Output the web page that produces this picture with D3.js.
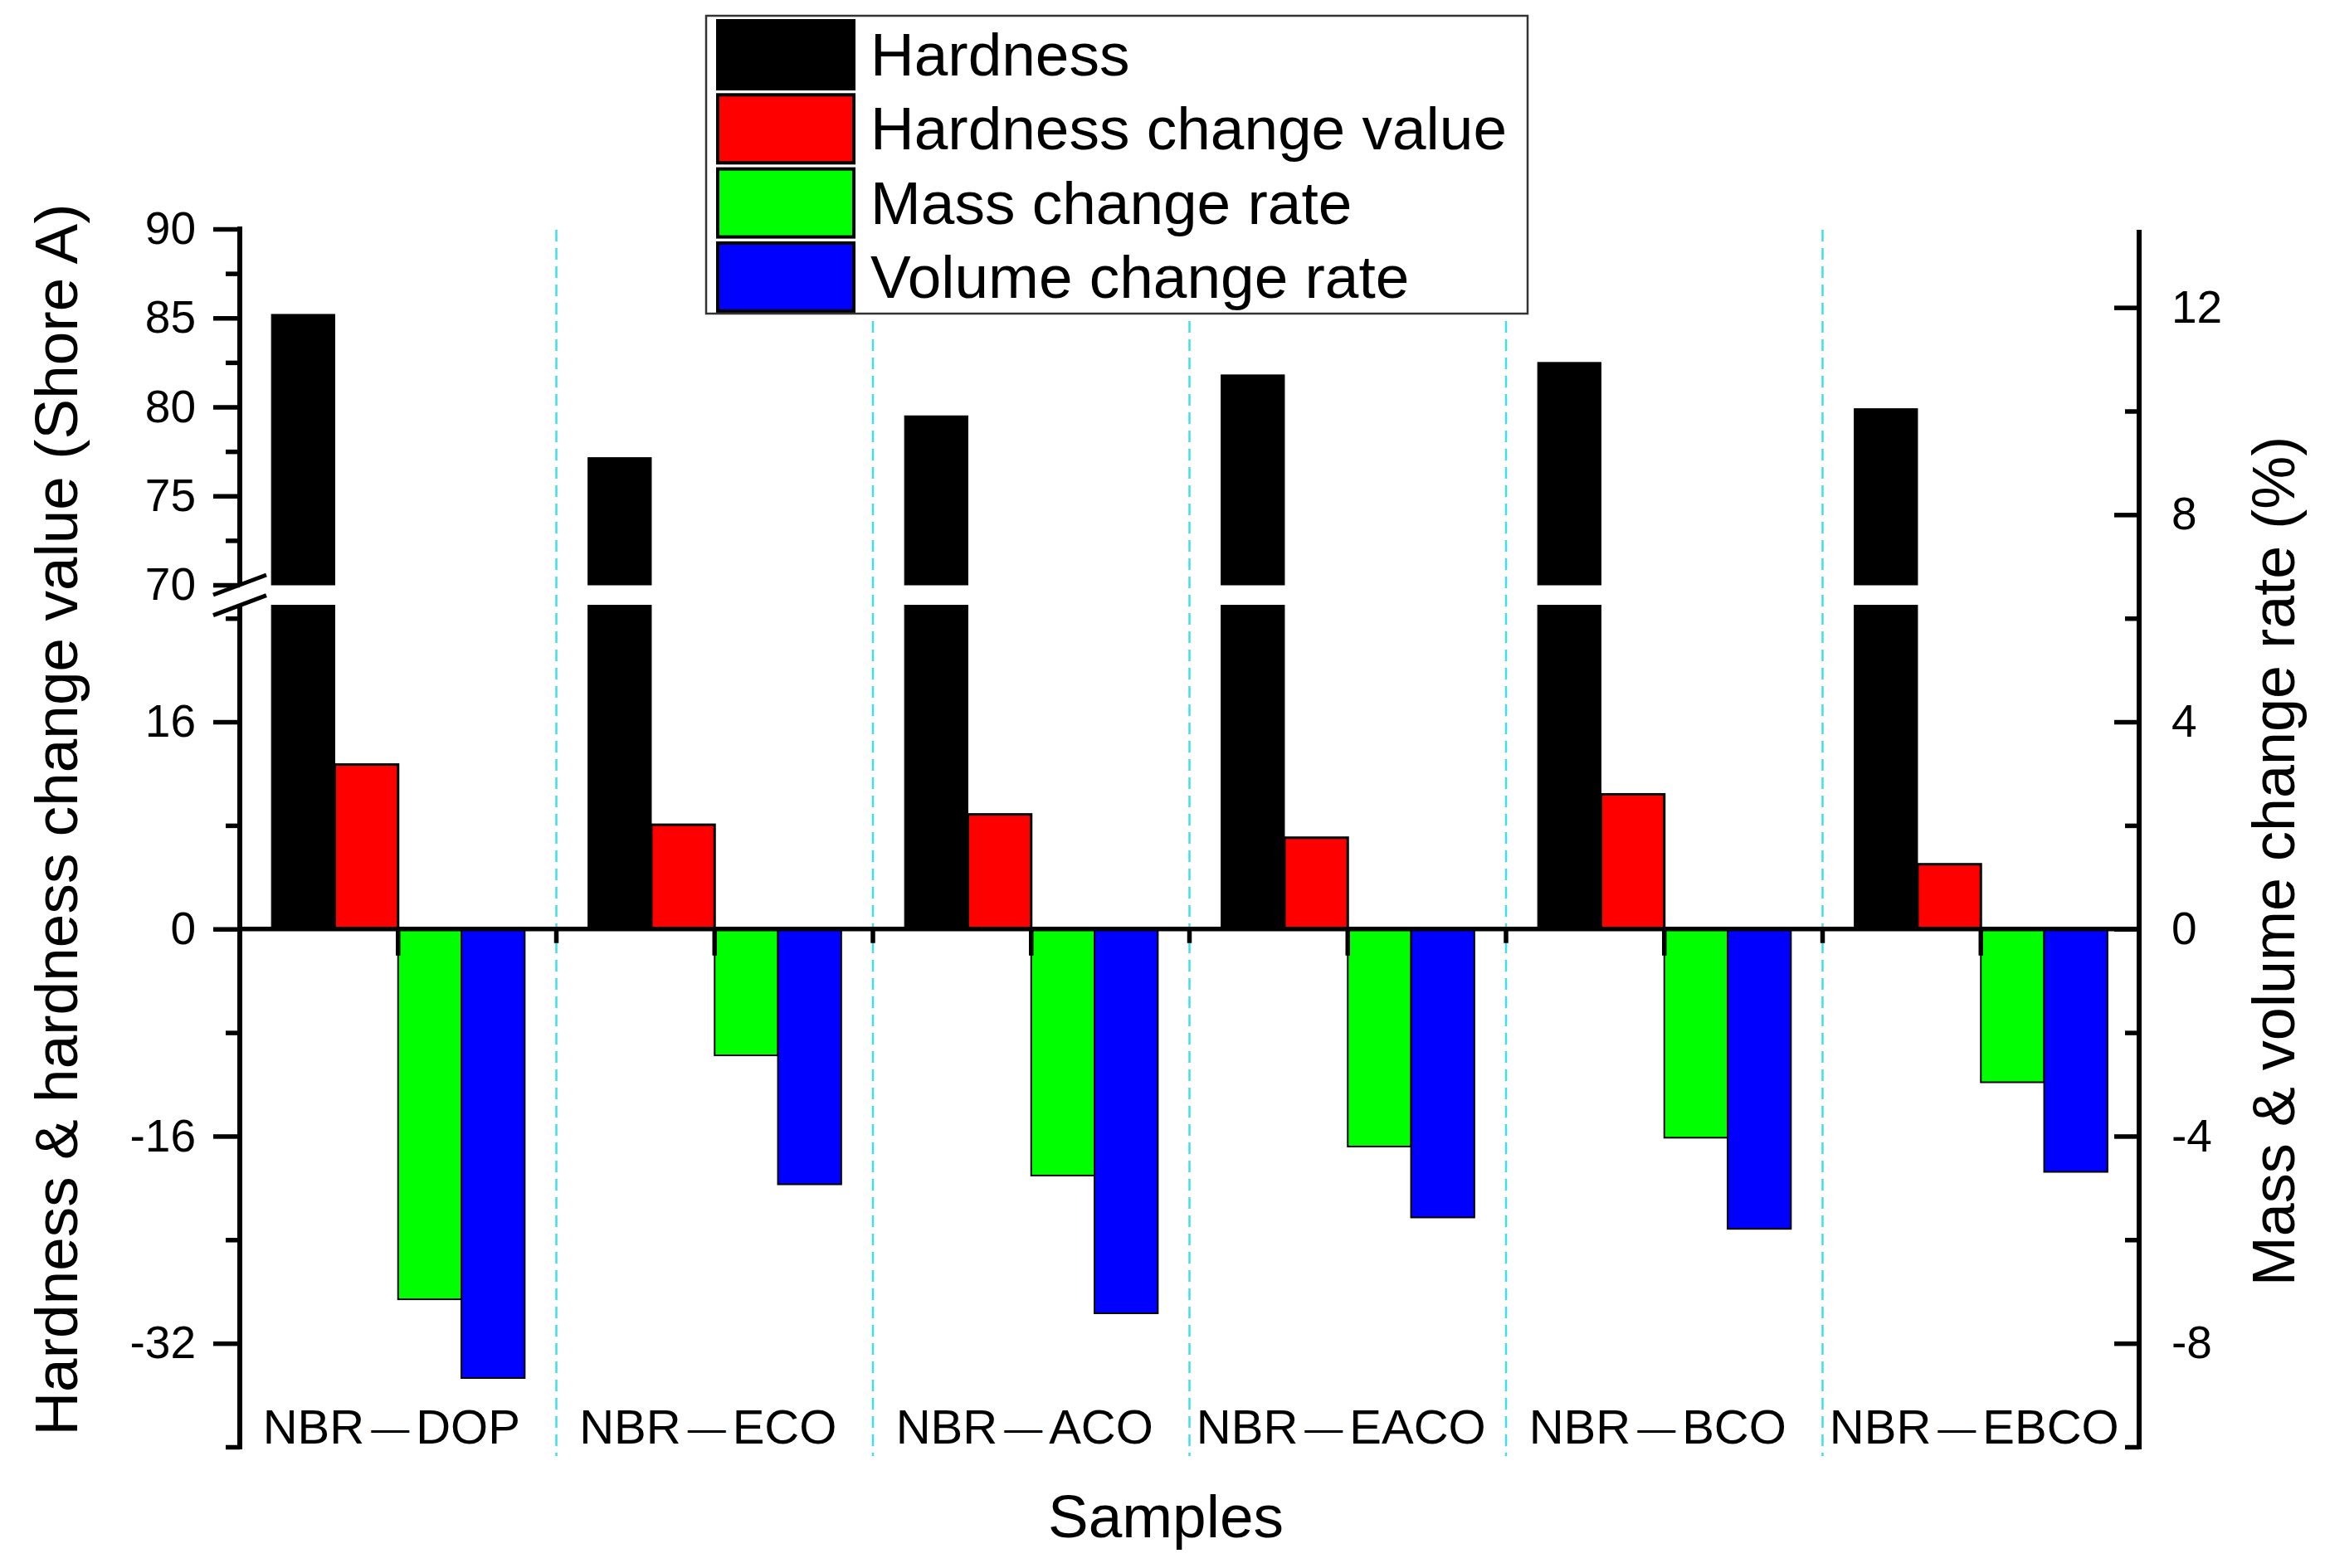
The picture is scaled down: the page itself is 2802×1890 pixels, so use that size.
<!DOCTYPE html>
<html>
<head>
<meta charset="utf-8">
<script src="https://cdn.jsdelivr.net/npm/d3@7/dist/d3.min.js"></script>
<style>
  body { margin: 0; background: #fff; }
  text { font-family: "Liberation Sans", Arial, sans-serif; fill: #000; }
</style>
</head>
<body>
<div class="chart"></div>
<script>
// data
var categories = ["NBR—DOP", "NBR—ECO", "NBR—ACO", "NBR—EACO", "NBR—BCO", "NBR—EBCO"];
var hardness = [85.2, 77.15, 79.5, 81.8, 82.5, 79.9];
var hardnessChange = [12.7, 8.05, 8.85, 7.05, 10.4, 5.0];
var massRate = [-7.15, -2.44, -4.76, -4.2, -4.03, -2.96];
var volumeRate = [-8.67, -4.93, -7.42, -5.57, -5.79, -4.69];

var seriesNames = ["Hardness", "Hardness change value", "Mass change rate", "Volume change rate"];
var seriesColors = ["#000000", "#ff0000", "#00ff00", "#0000ff"];

var upperTicks = [70, 75, 80, 85, 90];
var upperMinor = [72.5, 77.5, 82.5, 87.5];
var lowerTicks = [-32, -16, 0, 16];
var lowerMinor = [-40, -24, -8, 8, 24];
var rightTicks = [-8, -4, 0, 4, 8, 12];
var rightMinor = [-10, -6, -2, 2, 6, 10];

var svgWidth = 2802;
var svgHeight = 1890;

var plotLeft = 289;
var plotRight = 2578;
var plotTop = 277;
var plotBottom = 1744;
var breakTop = 705;   // where the upper (70-90) segment ends

var svg = d3.select(".chart")
  .append("svg")
  .attr("width", svgWidth)
  .attr("height", svgHeight);

svg.append("rect")
  .attr("width", svgWidth)
  .attr("height", svgHeight)
  .attr("fill", "#fff");

// scales
var unit = (plotBottom - plotTop) / 94;   // px per left-axis unit (right = 4x)

var yUp = d3.scaleLinear()
  .domain([70, 90])
  .range([breakTop, plotTop - 1]);

var yLow = d3.scaleLinear()
  .domain([-40, 25])
  .range([plotBottom, plotBottom - 65 * unit]);

var yR = d3.scaleLinear()
  .domain([-10, 13.5])
  .range([plotBottom, plotTop]);

var xBand = d3.scaleBand()
  .domain(categories)
  .range([plotLeft, plotRight])
  .padding(0);

var xSub = d3.scaleBand()
  .domain(seriesNames)
  .range([0, xBand.bandwidth()])
  .paddingInner(0)
  .paddingOuter(0.5);

// plain hyphen for negatives, like the original
var fmt = d => String(d);

// dashed separators between samples
svg.append("g")
  .selectAll("line")
  .data(categories.slice(1))
  .enter()
  .append("line")
  .attr("x1", d => xBand(d))
  .attr("x2", d => xBand(d))
  .attr("y1", plotTop)
  .attr("y2", plotBottom + 11)
  .attr("stroke", "#3fdfe8")
  .attr("stroke-width", 2.5)
  .attr("stroke-dasharray", "14,8");

// bars
var bars = [];
categories.forEach(function(c, i) {
  bars.push({ cat: c, key: seriesNames[0], value: hardness[i] });
  bars.push({ cat: c, key: seriesNames[1], value: hardnessChange[i] });
  bars.push({ cat: c, key: seriesNames[2], value: massRate[i] });
  bars.push({ cat: c, key: seriesNames[3], value: volumeRate[i] });
});

var barGroup = svg.append("g");
var strokeW = [1, 3, 2, 2];

bars.forEach(function(d) {
  var k = seriesNames.indexOf(d.key);
  var x = xBand(d.cat) + xSub(d.key);
  var w = xSub.bandwidth();
  var fill = seriesColors[k];
  if (k === 0) {
    // hardness: broken bar, lower piece then upper piece
    barGroup.append("rect")
      .attr("x", x).attr("width", w)
      .attr("y", yLow(25)).attr("height", yLow(0) - yLow(25))
      .attr("fill", fill).attr("stroke", "#000").attr("stroke-width", strokeW[k]);
    barGroup.append("rect")
      .attr("x", x).attr("width", w)
      .attr("y", yUp(d.value)).attr("height", yUp(70) - yUp(d.value))
      .attr("fill", fill).attr("stroke", "#000").attr("stroke-width", strokeW[k]);
  } else {
    var y = k === 1 ? yLow : yR;
    barGroup.append("rect")
      .attr("x", x).attr("width", w)
      .attr("y", Math.min(y(d.value), y(0)))
      .attr("height", Math.abs(y(d.value) - y(0)))
      .attr("fill", fill).attr("stroke", "#000").attr("stroke-width", strokeW[k]);
  }
});

// zero line with ticks at sample centres and boundaries
var zeroY = yLow(0);
var xAxis = svg.append("g")
  .attr("transform", `translate(0, ${zeroY})`)
  .call(d3.axisBottom(xBand).tickSize(32).tickSizeOuter(0).tickFormat(""));
xAxis.select(".domain").remove();
xAxis.selectAll("line").attr("stroke-width", 5.5);

svg.append("g")
  .selectAll("line")
  .data(categories.slice(1))
  .enter()
  .append("line")
  .attr("x1", d => xBand(d)).attr("x2", d => xBand(d))
  .attr("y1", zeroY).attr("y2", zeroY + 17)
  .attr("stroke", "#000").attr("stroke-width", 5.5);

svg.append("line")
  .attr("x1", plotLeft).attr("x2", plotRight)
  .attr("y1", zeroY).attr("y2", zeroY)
  .attr("stroke", "#000").attr("stroke-width", 5.5);

// axis helper
function styleAxis(g, size) {
  g.select(".domain").remove();
  g.selectAll("line").attr("stroke-width", 5.5);
  g.selectAll("text").style("font-size", size + "px").style("font-family", "Liberation Sans, Arial, sans-serif");
}

// left axis, upper segment
var leftUp = svg.append("g")
  .attr("transform", `translate(${plotLeft}, 0)`)
  .call(d3.axisLeft(yUp).tickValues(upperTicks).tickFormat(fmt).tickSize(32).tickPadding(21));
styleAxis(leftUp, 55);
var leftUpMinor = svg.append("g")
  .attr("transform", `translate(${plotLeft}, 0)`)
  .call(d3.axisLeft(yUp).tickValues(upperMinor).tickSize(17).tickFormat(""));
styleAxis(leftUpMinor, 55);

// left axis, lower segment
var leftLow = svg.append("g")
  .attr("transform", `translate(${plotLeft}, 0)`)
  .call(d3.axisLeft(yLow).tickValues(lowerTicks).tickFormat(fmt).tickSize(32).tickPadding(21));
styleAxis(leftLow, 55);
var leftLowMinor = svg.append("g")
  .attr("transform", `translate(${plotLeft}, 0)`)
  .call(d3.axisLeft(yLow).tickValues(lowerMinor).tickSize(17).tickFormat(""));
styleAxis(leftLowMinor, 55);

// right axis, ticks pointing inward
var right = svg.append("g")
  .attr("transform", `translate(${plotRight}, 0)`)
  .call(d3.axisRight(yR).tickValues(rightTicks).tickFormat(fmt).tickSize(-30).tickPadding(39));
styleAxis(right, 55);
var rightMin = svg.append("g")
  .attr("transform", `translate(${plotRight}, 0)`)
  .call(d3.axisRight(yR).tickValues(rightMinor).tickSize(-17).tickFormat(""));
styleAxis(rightMin, 55);

// axis lines
svg.append("line")
  .attr("x1", plotLeft).attr("x2", plotLeft)
  .attr("y1", yUp(90) - 3).attr("y2", yUp(70))
  .attr("stroke", "#000").attr("stroke-width", 6);
svg.append("line")
  .attr("x1", plotLeft).attr("x2", plotLeft)
  .attr("y1", yLow(25)).attr("y2", plotBottom + 3)
  .attr("stroke", "#000").attr("stroke-width", 6);
svg.append("line")
  .attr("x1", plotRight).attr("x2", plotRight)
  .attr("y1", plotTop).attr("y2", plotBottom + 3)
  .attr("stroke", "#000").attr("stroke-width", 6);

// break marks
[yUp(70), yLow(25)].forEach(function(y) {
  svg.append("line")
    .attr("x1", plotLeft - 32).attr("y1", y + 12)
    .attr("x2", plotLeft + 32).attr("y2", y - 12)
    .attr("stroke", "#000").attr("stroke-width", 5);
});

// sample labels
var catLabels = svg.append("g")
  .selectAll("text")
  .data(categories)
  .enter()
  .append("text")
  .attr("x", d => xBand(d) + xBand.bandwidth() / 2 - 8)
  .attr("y", 1740)
  .attr("text-anchor", "middle")
  .style("font-size", "58px");
catLabels.each(function(d) {
  var parts = d.split("—");
  var t = d3.select(this);
  t.append("tspan").text(parts[0]);
  t.append("tspan").attr("dx", 8).style("font-size", "46px").attr("dy", -3).text("—");
  t.append("tspan").attr("dx", 8).attr("dy", 3).text(parts[1]);
});

// axis titles
svg.append("text")
  .attr("transform", "translate(93, 988) rotate(-90)")
  .attr("text-anchor", "middle")
  .style("font-size", "73px")
  .text("Hardness & hardness change value (Shore A)");

svg.append("text")
  .attr("transform", "translate(2765, 1038) rotate(-90)")
  .attr("text-anchor", "middle")
  .style("font-size", "72px")
  .text("Mass & volume change rate (%)");

svg.append("text")
  .attr("x", 1405)
  .attr("y", 1853)
  .attr("text-anchor", "middle")
  .style("font-size", "73px")
  .text("Samples");

// legend
var legend = svg.append("g");
legend.append("rect")
  .attr("x", 851).attr("y", 19)
  .attr("width", 990).attr("height", 359)
  .attr("fill", "#fff")
  .attr("stroke", "#333")
  .attr("stroke-width", 2.5);

var legendItems = legend.selectAll(".item")
  .data(seriesNames)
  .enter()
  .append("g")
  .attr("transform", (d, i) => `translate(0, ${25 + i * 89.3})`);

legendItems.append("rect")
  .attr("x", 865).attr("y", 0)
  .attr("width", 164).attr("height", 82)
  .attr("fill", (d, i) => seriesColors[i])
  .attr("stroke", "#000")
  .attr("stroke-width", 4);

legendItems.append("text")
  .attr("x", 1049)
  .attr("y", 66)
  .style("font-size", "73px")
  .text(d => d);
</script>
</body>
</html>
